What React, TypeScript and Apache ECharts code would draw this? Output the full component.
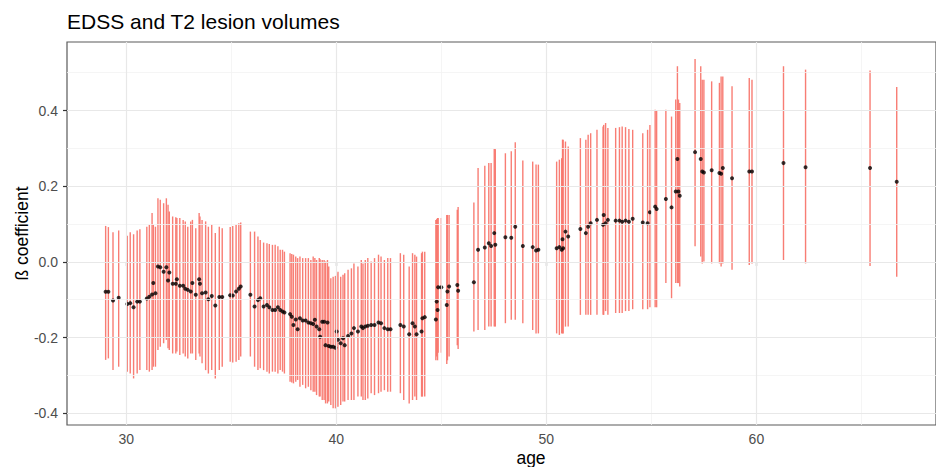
import React, { useEffect, useRef } from "react";
import * as echarts from "echarts";

const ages = [
  29.02, 29.15, 29.37, 29.64, 30.05, 30.19, 30.35, 30.52, 30.65, 30.98,
  31.10, 31.23, 31.29, 31.39, 31.51, 31.62, 31.78, 31.91, 31.99, 32.05,
  32.21, 32.36, 32.41, 32.55, 32.71, 32.81, 32.93, 33.07, 33.15, 33.31,
  33.47, 33.51, 33.61, 33.78, 33.91, 34.07, 34.24, 34.43, 34.57, 34.95,
  35.07, 35.23, 35.36, 35.45,
  35.91, 36.11, 36.27, 36.38, 36.54, 36.70, 36.81, 36.96, 37.09, 37.22,
  37.33, 37.44, 37.53, 37.80, 37.88, 37.96, 38.07, 38.16, 38.27, 38.40,
  38.54, 38.67, 38.79, 38.90, 38.98, 39.06, 39.19, 39.23, 39.33, 39.42,
  39.49, 39.58, 39.64, 39.74, 39.85, 39.96, 40.02, 40.08, 40.21, 40.32,
  40.40, 40.56, 40.72, 40.84, 41.03, 41.19, 41.27, 41.38, 41.50, 41.66,
  41.82, 42.01, 42.13, 42.29, 42.45, 42.58, 43.05, 43.21, 43.47, 43.63,
  43.74, 43.82, 44.06, 44.10, 44.21,
  44.74, 44.78, 44.82, 44.85, 45.00, 45.26, 45.29, 45.37, 45.76, 45.80,
  46.55, 46.75, 47.07, 47.26, 47.37, 47.52, 47.57, 48.05, 48.33, 48.52,
  48.88, 49.35, 49.51, 49.62, 50.49, 50.62, 50.73, 50.77, 50.80, 50.91,
  51.04,
  51.62, 51.88, 51.99, 52.11, 52.41, 52.70, 52.73, 52.82, 52.93, 53.30,
  53.48, 53.61, 53.77, 53.93, 54.11, 54.59, 54.82, 54.93, 55.18, 55.25,
  55.69, 55.96, 56.16, 56.24, 56.29, 56.35, 57.08, 57.35, 57.42, 57.50,
  57.87, 58.24, 58.32, 58.40, 58.84, 59.66, 59.79, 61.29, 62.34, 65.41,
  66.68
];

const betas = [
  -0.079, -0.079, -0.102, -0.095, -0.111, -0.109, -0.120, -0.105, -0.105, -0.097,
  -0.092, -0.086, -0.056, -0.083, -0.012, -0.014, -0.026, -0.014, -0.049, -0.028,
  -0.058, -0.058, -0.046, -0.063, -0.063, -0.071, -0.074, -0.078, -0.056, -0.087,
  -0.046, -0.058, -0.083, -0.081, -0.099, -0.090, -0.115, -0.093, -0.093, -0.088,
  -0.089, -0.078, -0.071, -0.065,
  -0.087, -0.118, -0.101, -0.096, -0.118, -0.114, -0.120, -0.127, -0.127, -0.120,
  -0.127, -0.131, -0.134, -0.138, -0.145, -0.167, -0.152, -0.178, -0.149, -0.155,
  -0.155, -0.160, -0.162, -0.164, -0.153, -0.171, -0.178, -0.198, -0.158, -0.158,
  -0.220, -0.160, -0.222, -0.224, -0.224, -0.227, -0.184, -0.206, -0.215, -0.202,
  -0.220, -0.196, -0.189, -0.175, -0.184, -0.171, -0.175, -0.171, -0.169, -0.167,
  -0.167, -0.160, -0.162, -0.175, -0.178, -0.178, -0.167, -0.171, -0.191, -0.162,
  -0.171, -0.191, -0.184, -0.149, -0.146,
  -0.152, -0.105, -0.127, -0.067, -0.067, -0.114, -0.078, -0.065, -0.061, -0.076,
  -0.054, 0.032, 0.038, 0.049, 0.042, 0.076, 0.045, 0.065, 0.064, 0.093,
  0.042, 0.039, 0.030, 0.032, 0.036, 0.039, 0.032, 0.060, 0.036, 0.080,
  0.067,
  0.087, 0.076, 0.093, 0.102, 0.111, 0.098, 0.124, 0.102, 0.111, 0.109,
  0.109, 0.106, 0.109, 0.106, 0.114, 0.104, 0.102, 0.131, 0.146, 0.140,
  0.166, 0.144, 0.186, 0.272, 0.186, 0.175, 0.290, 0.272, 0.239, 0.236,
  0.242, 0.235, 0.233, 0.248, 0.221, 0.239, 0.239, 0.261, 0.250, 0.248,
  0.212
];

const lowers = [
  -0.259, -0.255, -0.286, -0.277, -0.290, -0.295, -0.308, -0.295, -0.286, -0.286,
  -0.290, -0.286, -0.277, -0.277, -0.233, -0.224, -0.215, -0.206, -0.228, -0.233,
  -0.242, -0.242, -0.237, -0.246, -0.242, -0.250, -0.255, -0.242, -0.242, -0.259,
  -0.242, -0.250, -0.268, -0.286, -0.295, -0.286, -0.308, -0.286, -0.277, -0.264,
  -0.266, -0.264, -0.259, -0.250,
  -0.250, -0.277, -0.286, -0.281, -0.286, -0.290, -0.295, -0.290, -0.290, -0.295,
  -0.286, -0.290, -0.295, -0.317, -0.319, -0.321, -0.317, -0.312, -0.330, -0.325,
  -0.334, -0.330, -0.339, -0.343, -0.343, -0.352, -0.356, -0.356, -0.365, -0.365,
  -0.374, -0.374, -0.369, -0.378, -0.387, -0.387, -0.383, -0.383, -0.378, -0.369,
  -0.369, -0.365, -0.365, -0.365, -0.356, -0.356, -0.365, -0.365, -0.361, -0.347,
  -0.352, -0.347, -0.343, -0.339, -0.343, -0.343, -0.347, -0.365, -0.374, -0.365,
  -0.356, -0.365, -0.356, -0.356, -0.356,
  -0.260, -0.250, -0.260, -0.240, -0.240, -0.270, -0.260, -0.250, -0.220, -0.230,
  -0.184, -0.180, -0.180, -0.171, -0.171, -0.171, -0.171, -0.162, -0.153, -0.153,
  -0.162, -0.180, -0.189, -0.189, -0.189, -0.193, -0.189, -0.189, -0.189, -0.171,
  -0.171,
  -0.140, -0.140, -0.140, -0.140, -0.140, -0.140, -0.140, -0.130, -0.140, -0.135,
  -0.135, -0.135, -0.130, -0.130, -0.125, -0.125, -0.125, -0.120, -0.120, -0.120,
  -0.056, -0.096, -0.056, -0.056, -0.056, -0.065, 0.041, 0.014, -0.004, 0.001,
  -0.004, -0.004, -0.012, -0.004, -0.021, -0.008, -0.004, 0.005, -0.004, -0.011,
  -0.039
];

const uppers = [
  0.095, 0.092, 0.078, 0.083, 0.069, 0.078, 0.073, 0.083, 0.086, 0.093,
  0.098, 0.129, 0.098, 0.093, 0.168, 0.164, 0.155, 0.168, 0.151, 0.133,
  0.120, 0.118, 0.116, 0.116, 0.111, 0.107, 0.093, 0.107, 0.111, 0.089,
  0.129, 0.120, 0.111, 0.107, 0.093, 0.098, 0.076, 0.093, 0.089, 0.092,
  0.095, 0.098, 0.102, 0.104,
  0.080, 0.080, 0.067, 0.058, 0.051, 0.049, 0.047, 0.045, 0.045, 0.041,
  0.032, 0.032, 0.027, 0.023, 0.021, 0.019, 0.014, 0.010, 0.014, 0.010,
  0.010, 0.010, 0.005, 0.014, 0.010, 0.005, 0.010, 0.007, 0.005, 0.005,
  0.001, 0.005, -0.012, -0.043, -0.039, -0.037, -0.030, -0.026, -0.039, -0.034,
  -0.030, -0.021, -0.017, -0.004, -0.012, 0.005, -0.004, 0.005, 0.010, 0.001,
  0.010, 0.019, 0.014, 0.005, 0.010, 0.010, 0.023, 0.019, -0.012, 0.023,
  0.019, 0.014, 0.023, 0.027, 0.027,
  0.111, 0.113, 0.116, 0.116, 0.116, 0.124, 0.124, 0.124, 0.138, 0.145,
  0.157, 0.248, 0.254, 0.261, 0.261, 0.298, 0.298, 0.287, 0.292, 0.316,
  0.268, 0.265, 0.257, 0.257, 0.265, 0.270, 0.274, 0.323, 0.323, 0.318,
  0.305,
  0.327, 0.323, 0.336, 0.340, 0.349, 0.358, 0.362, 0.367, 0.354, 0.354,
  0.356, 0.358, 0.356, 0.351, 0.349, 0.340, 0.349, 0.362, 0.402, 0.400,
  0.402, 0.384, 0.429, 0.517, 0.429, 0.420, 0.536, 0.517, 0.481, 0.481,
  0.477, 0.473, 0.490, 0.490, 0.464, 0.486, 0.481, 0.517, 0.508, 0.506,
  0.462
];

const xTicks = [30, 40, 50, 60];
const xMinor = [35, 45, 55, 65];
const yTicks = [-0.4, -0.2, 0, 0.2, 0.4];
const yMinor = [-0.3, -0.1, 0.1, 0.3, 0.5];

const FONT = "'Liberation Sans', Arial, Helvetica, sans-serif";

export default function App() {
  const ref = useRef<HTMLDivElement>(null);

  useEffect(() => {
    if (!ref.current) return;
    const chart = echarts.init(ref.current, null, { renderer: "svg" });

    const barData = ages.map((a, i) => [a, lowers[i], uppers[i]]);
    const pointData = ages.map((a, i) => [a, betas[i]]);

    const minorStyle = { color: "#F3F3F3", width: 0.8, type: "solid" as const };
    const majorStyle = { color: "#E8E8E8", width: 1.2, type: "solid" as const };
    const gridLines = [
      ...xMinor.map((v) => ({ xAxis: v, lineStyle: minorStyle })),
      ...yMinor.map((v) => ({ yAxis: v, lineStyle: minorStyle })),
      ...xTicks.map((v) => ({ xAxis: v, lineStyle: majorStyle })),
      ...yTicks.map((v) => ({ yAxis: v, lineStyle: majorStyle })),
    ];

    chart.setOption({
      animation: false,
      grid: {
        left: 67,
        right: -6,
        top: 42,
        bottom: 42,
        show: true,
        backgroundColor: "#ffffff",
        borderColor: "#5a5a5a",
        borderWidth: 1.2,
      },
      xAxis: {
        type: "value",
        min: 27.18,
        max: 68.55,
        axisLine: { show: false },
        axisTick: {
          show: true,
          customValues: xTicks,
          length: 4,
          lineStyle: { color: "#333333", width: 1.2 },
        },
        axisLabel: {
          customValues: xTicks,
          color: "#4D4D4D",
          fontSize: 14,
          fontFamily: FONT,
          margin: 7,
        },
        splitLine: { show: false },
      },
      yAxis: {
        type: "value",
        min: -0.431,
        max: 0.581,
        axisLine: { show: false },
        axisTick: {
          show: true,
          customValues: yTicks,
          length: 4,
          lineStyle: { color: "#333333", width: 1.2 },
        },
        axisLabel: {
          customValues: yTicks,
          color: "#4D4D4D",
          fontSize: 14,
          fontFamily: FONT,
          margin: 9,
          formatter: (v: number) => v.toFixed(1),
        },
        splitLine: { show: false },
      },
      graphic: [
        {
          type: "text",
          x: 67,
          y: 21,
          style: {
            text: "EDSS and T2 lesion volumes",
            fontSize: 21,
            fontFamily: FONT,
            fill: "#000000",
            align: "left",
            verticalAlign: "middle",
          },
        },
        {
          type: "text",
          x: 531,
          y: 458,
          style: {
            text: "age",
            fontSize: 17.5,
            fontFamily: FONT,
            fill: "#000000",
            align: "center",
            verticalAlign: "middle",
          },
        },
        {
          type: "text",
          x: 22,
          y: 233.5,
          rotation: Math.PI / 2,
          style: {
            text: "ß coefficient",
            fontSize: 17.5,
            fontFamily: FONT,
            fill: "#000000",
            align: "center",
            verticalAlign: "middle",
          },
        },
      ],
      series: [
        {
          type: "line",
          data: [],
          z: 1,
          silent: true,
          markLine: {
            silent: true,
            symbol: "none",
            label: { show: false },
            data: gridLines,
          },
        },
        {
          type: "custom",
          z: 2,
          silent: true,
          data: barData,
          encode: { x: 0, y: [1, 2] },
          renderItem: (params: any, api: any) => {
            const x = api.value(0);
            const p1 = api.coord([x, api.value(1)]);
            const p2 = api.coord([x, api.value(2)]);
            return {
              type: "line",
              shape: { x1: p1[0], y1: p1[1], x2: p2[0], y2: p2[1] },
              style: { stroke: "#F8766D", lineWidth: 1.4, opacity: 0.95 },
            };
          },
        },
        {
          type: "scatter",
          z: 3,
          silent: true,
          data: pointData,
          symbol: "circle",
          symbolSize: 4,
          itemStyle: { color: "#000000" },
        },
      ],
    });

    return () => chart.dispose();
  }, []);

  return (
    <div
      ref={ref}
      style={{ position: "absolute", left: 0, top: 0, width: 936, height: 467, background: "#ffffff" }}
    />
  );
}
